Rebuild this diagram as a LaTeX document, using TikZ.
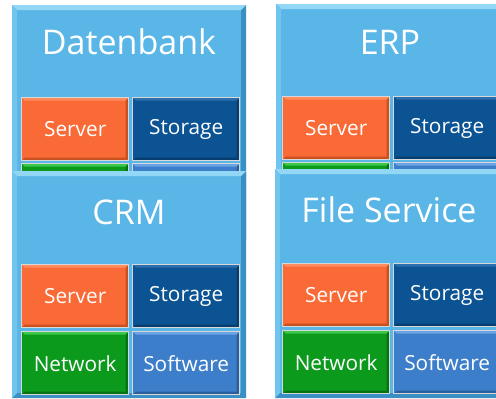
\documentclass[tikz,border=0pt]{standalone}
\usepackage{fontspec}
\setmainfont{Open Sans}
\definecolor{panelblue}{HTML}{5AB6E6}
\definecolor{paneltop}{HTML}{92D8F6}
\definecolor{panelleft}{HTML}{70C4EE}
\definecolor{paneldark}{HTML}{3B8FC2}
\definecolor{srv}{HTML}{F96A36}
\definecolor{srvtop}{HTML}{FF8C5E}
\definecolor{srvdark}{HTML}{C9511F}
\definecolor{sto}{HTML}{0B5393}
\definecolor{stotop}{HTML}{2C6FAE}
\definecolor{stodark}{HTML}{073E70}
\definecolor{net}{HTML}{0B9A1C}
\definecolor{nettop}{HTML}{3CC84A}
\definecolor{netdark}{HTML}{067312}
\definecolor{sw}{HTML}{3D7ECA}
\definecolor{swtop}{HTML}{6AA4E6}
\definecolor{swdark}{HTML}{2A5F9E}
\definecolor{tileedge}{HTML}{D8D8D8}
\tikzset{
  bevel/.style n args={5}{fill=#1, path picture={
    \fill[#2] (path picture bounding box.north west) -- (path picture bounding box.north east)
      -- ([shift={(-#5,-#5)}]path picture bounding box.north east)
      -- ([shift={(#5,-#5)}]path picture bounding box.north west) -- cycle;
    \fill[#3] (path picture bounding box.north west) -- ([shift={(#5,-#5)}]path picture bounding box.north west)
      -- ([shift={(#5,#5)}]path picture bounding box.south west)
      -- (path picture bounding box.south west) -- cycle;
    \fill[#4] (path picture bounding box.north east) -- ([shift={(-#5,-#5)}]path picture bounding box.north east)
      -- ([shift={(-#5,#5)}]path picture bounding box.south east)
      -- (path picture bounding box.south east) -- cycle;
    \fill[#4] (path picture bounding box.south west) -- ([shift={(#5,#5)}]path picture bounding box.south west)
      -- ([shift={(-#5,#5)}]path picture bounding box.south east)
      -- (path picture bounding box.south east) -- cycle;
  }},
  panel/.style={anchor=north west, inner sep=0pt, minimum width=234pt,
    bevel={panelblue}{paneltop}{panelleft}{paneldark}{5pt}},
  title/.style={text=white, font=\fontsize{34}{36}\selectfont, inner sep=0pt},
  tile/.style={anchor=north west, inner sep=0pt, minimum width=107pt, minimum height=63pt,
    draw=tileedge, line width=1.4pt, text=white, font=\fontsize{20.8}{23}\selectfont},
  server/.style={tile, bevel={srv}{srvtop}{srv}{srvdark}{3pt}},
  storage/.style={tile, bevel={sto}{stotop}{sto}{stodark}{3pt}},
  network/.style={tile, bevel={net}{nettop}{net}{netdark}{3pt}},
  software/.style={tile, bevel={sw}{swtop}{sw}{swdark}{3pt}},
}
\begin{document}
\begin{tikzpicture}[x=1pt,y=-1pt]
\useasboundingbox[fill=white] (0,0) rectangle (496,399);
\clip (0,0) rectangle (496,399);
% Datenbank
\node[panel, minimum height=235pt] (dbp) at (12,5) {};
\node[title] (dbt) at (129,42) {Datenbank};
\node[server] (dbsrv) at (21,97) {Server};
\node[storage] (dbsto) at (132,97) {Storage};
\node[network, minimum height=14pt] (dbnet) at (21,163) {};
\node[software, minimum height=14pt] (dbsw) at (132,163) {};
% ERP
\node[panel, minimum height=235pt] (erpp) at (276,4) {};
\node[title] (erpt) at (390,42) {ERP};
\node[server] (erpsrv) at (282,96) {Server};
\node[storage] (erpsto) at (393,96) {Storage};
\node[network, minimum height=14pt] (erpnet) at (282,162) {};
\node[software, minimum height=14pt] (erpsw) at (393,162) {};
% CRM
\node[panel, minimum height=227pt] (crmp) at (12,171) {};
\node[title] (crmt) at (129,212) {CRM};
\node[server] (crmsrv) at (21,264) {Server};
\node[storage] (crmsto) at (132,264) {Storage};
\node[network] (crmnet) at (21,331) {Network};
\node[software] (crmsw) at (132,331) {Software};
% File Service
\node[panel, minimum height=229pt] (fsp) at (275,169) {};
\node[title] (fst) at (389,210) {File Service};
\node[server] (fssrv) at (282,263) {Server};
\node[storage] (fssto) at (393,263) {Storage};
\node[network] (fsnet) at (282,330) {Network};
\node[software] (fssw) at (393,330) {Software};
\end{tikzpicture}
\end{document}
